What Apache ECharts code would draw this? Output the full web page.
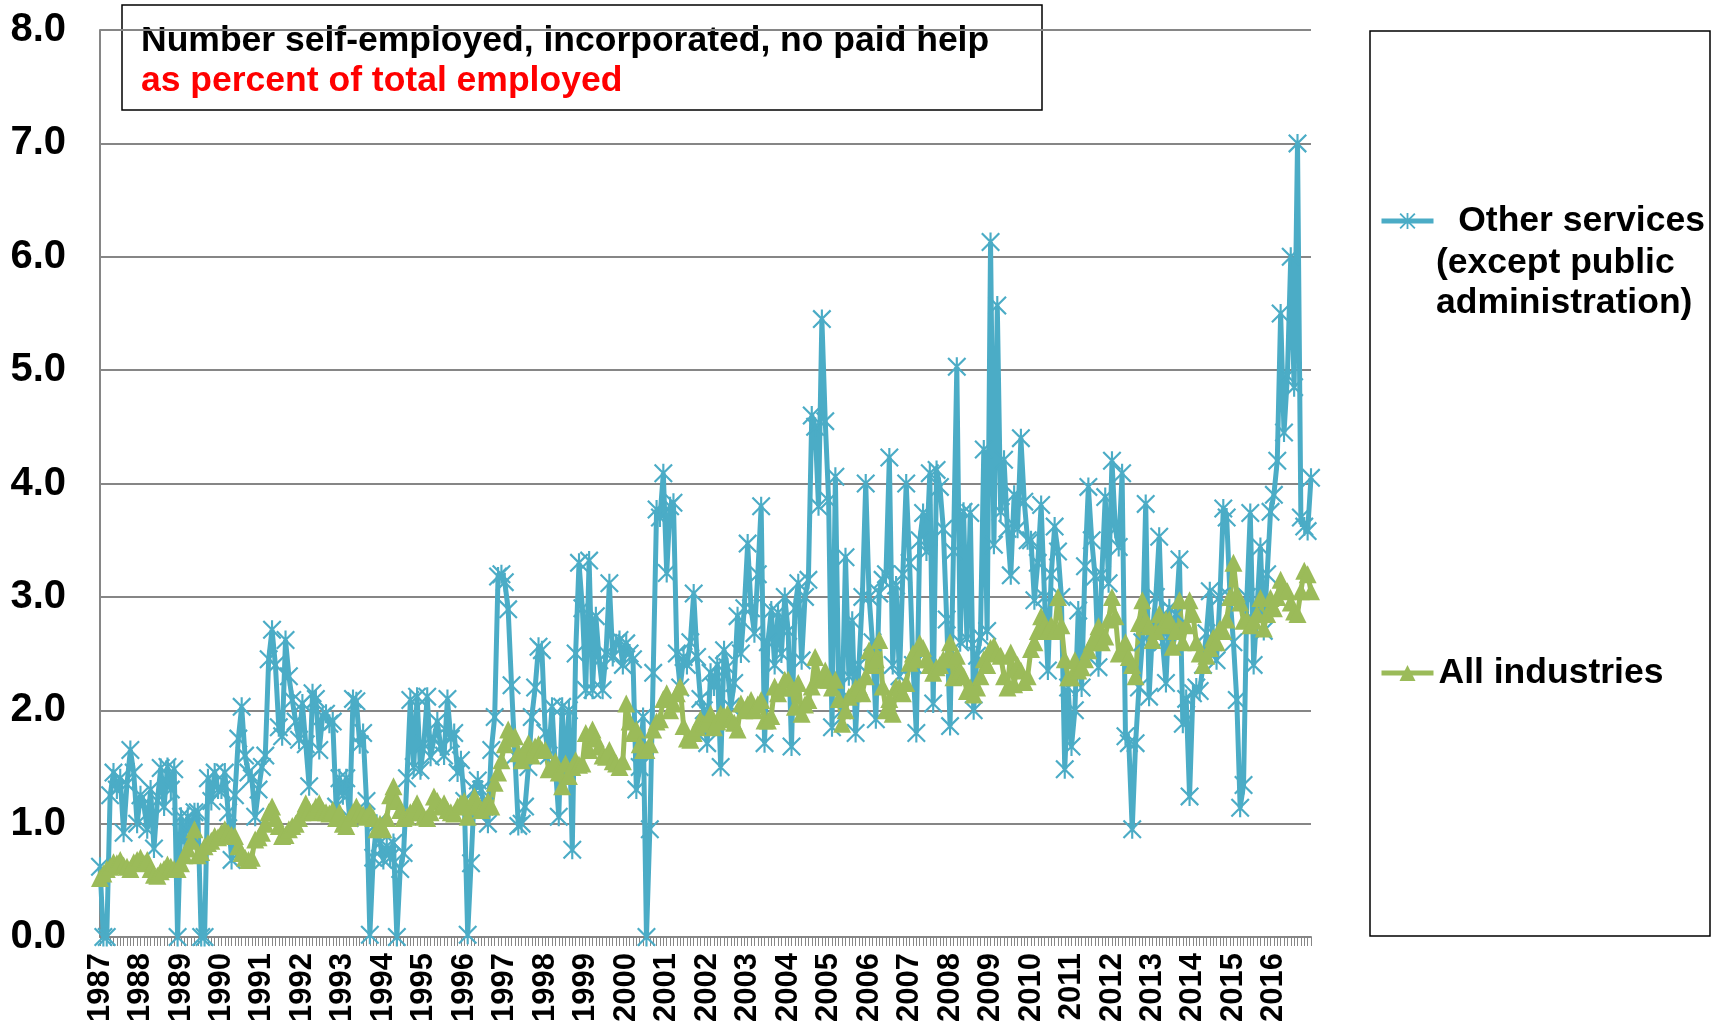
<!DOCTYPE html>
<html>
<head>
<meta charset="utf-8">
<script src="https://cdn.jsdelivr.net/npm/echarts/dist/echarts.min.js"></script>
<style>
html,body{margin:0;padding:0;background:#fff;}
#chart{width:1723px;height:1025px;}
</style>
</head>
<body>
<div id="chart"></div>
<script>
// ---- tick labels (years shown on the category axis) ----
const yearLabels = ['1987','1988','1989','1990','1991','1992','1993','1994','1995','1996',
  '1997','1998','1999','2000','2001','2002','2003','2004','2005','2006',
  '2007','2008','2009','2010','2011','2012','2013','2014','2015','2016'];
const yTickLabels = ['0.0','1.0','2.0','3.0','4.0','5.0','6.0','7.0','8.0'];

// ---- series names ----
const nameOther = 'Other services (except public administration)';
const nameAll = 'All industries';

// ---- Other services (except public administration), monthly, % ----
const otherServices1987to1996 = [
  0.62, 0.0, 0.0, 1.25, 1.45, 1.3, 1.4, 0.92, 1.35, 1.65, 1.45, 1.0,
  1.25, 1.17, 0.95, 1.3, 0.78, 1.2, 1.49, 1.15, 1.5, 1.3, 1.48, 0.0,
  1.06, 0.85, 1.06, 0.9, 1.1, 1.1, 0.0, 0.0, 1.4, 1.2, 1.45, 1.3,
  1.3, 1.45, 1.1, 0.68, 1.25, 1.75, 2.03, 1.6, 1.45, 1.4, 1.06, 1.3,
  1.5, 1.6, 2.45, 2.71, 2.4, 1.85, 1.77, 2.62, 2.3, 2.09, 1.9, 1.74,
  2.06, 1.7, 1.33, 2.15, 2.1, 1.65, 1.95, 1.97, 1.88, 1.9, 1.15, 1.4,
  1.25, 1.4, 1.05, 2.1, 2.08, 1.7, 1.8, 1.2, 0.02, 0.7, 1.0, 0.83,
  0.68, 0.8, 0.7, 0.83, 0.0, 0.6, 0.74, 1.4, 2.09, 1.5, 2.12, 1.47,
  1.7, 2.12, 1.59, 1.75, 1.9, 1.68, 1.6, 2.1, 1.75, 1.8, 1.45, 1.56,
  1.2, 0.02, 0.65, 1.3, 1.38, 1.3, 1.15, 1.0, 1.65, 1.94, 3.18, 3.2
];
const otherServices1997to2006 = [
  3.13, 2.89, 2.22, 1.6, 0.98, 1.0, 1.15, 1.5, 1.94, 2.2, 2.56, 2.53,
  1.8, 1.6, 2.03, 1.5, 1.06, 2.03, 1.4, 2.0, 0.77, 2.5, 3.3, 2.9,
  2.18, 3.32, 2.18, 2.83, 2.44, 2.18, 2.5, 3.12, 2.47, 2.59, 2.62, 2.4,
  2.59, 2.5, 2.45, 1.3, 1.5, 1.94, 0.0, 0.95, 2.33, 3.77, 3.7, 4.09,
  3.21, 3.8, 3.83, 2.5, 2.2, 2.47, 2.4, 2.6, 3.03, 2.47, 2.1, 2.0,
  1.71, 2.33, 2.21, 2.4, 1.5, 2.53, 2.38, 2.03, 2.24, 2.83, 2.5, 2.9,
  3.47, 2.9, 2.68, 3.2, 3.8, 1.71, 2.6, 2.88, 2.4, 2.86, 2.5, 3.0,
  2.7, 1.68, 2.9, 3.12, 2.44, 3.0, 3.15, 4.6, 4.5, 3.8, 5.45, 4.55,
  3.85, 1.85, 4.06, 2.2, 2.0, 3.35, 2.3, 2.79, 1.8, 2.4, 3.0, 4.0,
  3.0, 2.6, 1.92, 3.03, 3.15, 3.2, 4.23, 2.4, 3.1, 2.3, 3.2, 4.0
];
const otherServices2007to2016 = [
  3.3, 2.4, 1.8, 3.5, 3.74, 3.4, 4.09, 2.06, 4.12, 3.97, 3.6, 2.8,
  1.86, 3.4, 5.03, 2.6, 3.75, 2.63, 3.74, 2.0, 2.48, 2.65, 4.3, 2.7,
  6.13, 3.46, 5.57, 3.75, 4.21, 3.6, 3.19, 3.9, 3.6, 4.4, 3.84, 3.5,
  3.5, 2.97, 3.3, 3.81, 3.0, 2.35, 3.2, 3.62, 3.4, 3.0, 1.48, 2.2,
  1.68, 2.0, 2.88, 2.2, 3.27, 3.97, 3.5, 3.18, 2.38, 3.2, 3.88, 3.12,
  4.2, 3.6, 3.44, 4.09, 1.77, 1.71, 0.95, 1.71, 2.2, 2.6, 3.82, 2.12,
  2.7, 3.0, 3.53, 2.6, 2.24, 2.9, 2.6, 2.85, 3.33, 1.88, 2.1, 1.24,
  2.15, 2.2, 2.17, 2.4, 2.68, 3.05, 2.6, 2.44, 3.0, 3.78, 3.7, 3.0,
  2.6, 2.09, 1.14, 1.34, 3.0, 3.74, 2.4, 2.9, 3.44, 2.7, 3.2, 3.75,
  3.9, 4.2, 5.5, 4.45, 4.95, 6.0, 4.85, 7.0, 3.7, 3.62, 3.58, 4.05
];

// ---- All industries, monthly, % ----
const allIndustries1987to1996 = [
  0.52, 0.56, 0.6, 0.62, 0.66, 0.65, 0.68, 0.63, 0.62, 0.6, 0.66, 0.68,
  0.7, 0.65, 0.68, 0.6, 0.55, 0.54, 0.58, 0.6, 0.64, 0.62, 0.6, 0.6,
  0.65, 0.72, 0.78, 0.85, 0.95, 0.72, 0.75, 0.8, 0.83, 0.85, 0.89, 0.88,
  0.92, 0.95, 0.92, 0.9, 0.89, 0.8, 0.74, 0.7, 0.68, 0.7, 0.86, 0.88,
  0.92, 1.0, 1.1, 1.15, 1.05, 0.98, 0.89, 0.9, 0.95, 0.98, 1.0, 1.05,
  1.1, 1.18, 1.12, 1.1, 1.15, 1.18, 1.12, 1.1, 1.09, 1.12, 1.05, 1.1,
  1.0, 0.98, 1.05, 1.1, 1.15, 1.1, 1.08, 1.06, 1.1, 1.05, 0.95, 1.0,
  0.95, 1.05, 1.25, 1.33, 1.2, 1.12, 1.05, 1.06, 1.1, 1.12, 1.18, 1.1,
  1.06, 1.05, 1.1, 1.24, 1.2, 1.15, 1.18, 1.12, 1.1, 1.09, 1.15, 1.18,
  1.2, 1.06, 1.15, 1.24, 1.18, 1.12, 1.15, 1.2, 1.15, 1.36, 1.45, 1.56
];
const allIndustries1997to2006 = [
  1.7, 1.83, 1.75, 1.77, 1.62, 1.56, 1.65, 1.71, 1.6, 1.68, 1.7, 1.65,
  1.65, 1.48, 1.5, 1.55, 1.45, 1.33, 1.53, 1.42, 1.5, 1.56, 1.52, 1.53,
  1.8, 1.65, 1.83, 1.75, 1.68, 1.6, 1.59, 1.65, 1.55, 1.53, 1.5, 1.55,
  2.06, 1.9, 1.8, 1.83, 1.7, 1.65, 1.65, 1.7, 1.83, 1.9, 1.92, 2.1,
  2.15, 2.0, 2.06, 2.15, 2.21, 1.86, 1.75, 1.74, 1.8, 1.85, 1.92, 1.88,
  1.9, 1.97, 1.85, 1.9, 1.97, 1.95, 1.97, 1.92, 1.89, 1.83, 2.06, 2.0,
  2.05, 2.09, 2.0, 2.05, 2.09, 1.91, 1.91, 1.95, 2.21, 2.15, 2.2, 2.27,
  2.27, 2.2, 2.03, 2.24, 1.97, 2.05, 2.09, 2.21, 2.47, 2.3, 2.27, 2.35,
  2.27, 2.2, 2.27, 2.1, 1.88, 2.0, 2.12, 2.15, 2.2, 2.21, 2.15, 2.3,
  2.53, 2.4, 2.45, 2.62, 2.21, 2.0, 2.1, 1.97, 2.21, 2.2, 2.15, 2.24
];
const allIndustries2007to2016 = [
  2.42, 2.5, 2.45, 2.59, 2.55, 2.45, 2.4, 2.33, 2.38, 2.4, 2.45, 2.45,
  2.6, 2.29, 2.48, 2.35, 2.3, 2.17, 2.2, 2.14, 2.2, 2.3, 2.45, 2.4,
  2.55, 2.57, 2.5, 2.48, 2.3, 2.2, 2.51, 2.23, 2.4, 2.35, 2.25, 2.3,
  2.54, 2.6, 2.7, 2.83, 2.75, 2.7, 2.75, 2.7, 3.0, 2.75, 2.45, 2.29,
  2.29, 2.44, 2.35, 2.38, 2.45, 2.53, 2.6, 2.65, 2.74, 2.6, 2.65, 2.8,
  3.0, 2.83, 2.5, 2.55, 2.6, 2.47, 2.4, 2.3, 2.77, 2.97, 2.8, 2.74,
  2.62, 2.7, 2.85, 2.75, 2.8, 2.8, 2.56, 2.7, 2.97, 2.6, 2.75, 2.97,
  2.85, 2.6, 2.5, 2.4, 2.48, 2.55, 2.64, 2.6, 2.72, 2.7, 2.8, 3.0,
  3.3, 3.03, 2.95, 2.79, 2.8, 2.75, 2.79, 2.85, 2.99, 2.72, 2.85, 2.99,
  2.9, 3.0, 3.15, 3.07, 3.05, 2.95, 2.87, 2.85, 3.05, 3.23, 3.2, 3.05
];

// ---- build what the library needs ----
const categories = [];
yearLabels.forEach(function (y) {
  for (let m = 1; m <= 12; m++) categories.push(y + '-' + (m < 10 ? '0' + m : '' + m));
});
const otherServices = [].concat(otherServices1987to1996, otherServices1997to2006, otherServices2007to2016);
const allIndustries = [].concat(allIndustries1987to1996, allIndustries1997to2006, allIndustries2007to2016);

const FONT = "'Liberation Sans', Arial, Helvetica, sans-serif";
const BLUE = '#4BACC6';
const GREEN = '#9BBB59';
const GRID = '#868686';
const asterisk = 'path://M7.1,0H8.9V16H7.1Z M0,1.3L1.3,0L16,14.7L14.7,16Z M14.7,0L16,1.3L1.3,16L0,14.7Z';
const TXT = 'bold 35.5px ' + FONT;

const chart = echarts.init(document.getElementById('chart'), null, {renderer: 'canvas'});
const option = {
  animation: false,
  backgroundColor: '#ffffff',
  grid: {left: 100, right: 412, top: 30, bottom: 88, containLabel: false},
  xAxis: {
    type: 'category',
    data: categories,
    boundaryGap: false,
    axisLine: {show: true, lineStyle: {color: GRID, width: 2}},
    axisTick: {show: true, interval: 0, length: 9, lineStyle: {color: GRID, width: 1}},
    axisLabel: {
      interval: function (i) { return i % 12 === 0; },
      formatter: function (v) { return v.slice(0, 4); },
      rotate: 90, margin: 16, fontSize: 31, fontWeight: 'bold', color: '#000', fontFamily: FONT
    },
    splitLine: {show: false}
  },
  yAxis: {
    type: 'value', min: 0, max: 8, interval: 1,
    axisLine: {show: true, lineStyle: {color: GRID, width: 2}},
    axisTick: {show: false},
    axisLabel: {
      formatter: function (v) { return yTickLabels[Math.round(v)]; },
      fontSize: 40, fontWeight: 'bold', color: '#000', margin: 34, fontFamily: FONT
    },
    splitLine: {show: true, lineStyle: {color: GRID, width: 2}}
  },
  legend: [
    {
      data: [nameOther], left: 1379, top: 203, orient: 'vertical', padding: 0, itemGap: 0,
      itemWidth: 52, itemHeight: 20, selectedMode: false,
      lineStyle: {width: 5},
      formatter: function () { return '  Other services'; },
      textStyle: {fontSize: 35.5, fontWeight: 'bold', color: '#000', fontFamily: FONT}
    },
    {
      data: [nameAll], left: 1379, top: 655, orient: 'vertical', padding: 0, itemGap: 0,
      itemWidth: 52, itemHeight: 20, selectedMode: false,
      lineStyle: {width: 5},
      textStyle: {fontSize: 35.5, fontWeight: 'bold', color: '#000', fontFamily: FONT}
    }
  ],
  series: [
    {
      name: nameOther, type: 'line', data: otherServices,
      symbol: asterisk, symbolSize: 19, showAllSymbol: true,
      lineStyle: {color: BLUE, width: 5}, itemStyle: {color: BLUE},
      emphasis: {disabled: true}
    },
    {
      name: nameAll, type: 'line', data: allIndustries,
      symbol: 'triangle', symbolSize: 18, showAllSymbol: true,
      lineStyle: {color: GREEN, width: 5}, itemStyle: {color: GREEN},
      emphasis: {disabled: true}
    }
  ],
  graphic: [
    {
      type: 'group', z: 100,
      children: [
        {type: 'rect', shape: {x: 122, y: 5, width: 920, height: 105},
          style: {fill: '#fff', stroke: '#000', lineWidth: 1.5}},
        {type: 'text', style: {text: 'Number self-employed, incorporated, no paid help', x: 141, y: 41,
          font: TXT, fill: '#000', verticalAlign: 'middle', align: 'left'}},
        {type: 'text', style: {text: 'as percent of total employed', x: 141, y: 81,
          font: TXT, fill: '#ff0000', verticalAlign: 'middle', align: 'left'}}
      ]
    },
    {type: 'rect', z: 1, shape: {x: 1370, y: 31, width: 340, height: 905},
      style: {fill: 'none', stroke: '#000', lineWidth: 1.5}},
    {type: 'text', z: 100, style: {text: '(except public', x: 1436, y: 263,
      font: TXT, fill: '#000', verticalAlign: 'middle', align: 'left'}},
    {type: 'text', z: 100, style: {text: 'administration)', x: 1436, y: 303,
      font: TXT, fill: '#000', verticalAlign: 'middle', align: 'left'}}
  ]
};
chart.setOption(option);
</script>
</body>
</html>
